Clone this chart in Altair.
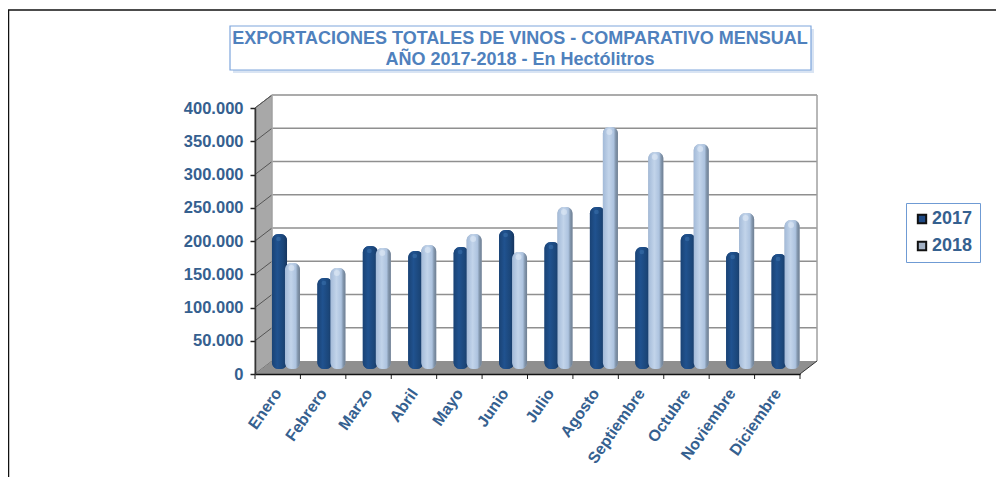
import altair as alt
import pandas as pd

months = ["Enero", "Febrero", "Marzo", "Abril", "Mayo", "Junio", "Julio", "Agosto",
          "Septiembre", "Octubre", "Noviembre", "Diciembre"]
v2017 = [203000, 136800, 185000, 177400, 183500, 209000, 191000, 243600, 183500, 203000, 175900, 172900]
v2018 = [159400, 151900, 182000, 186500, 203000, 175900, 243600, 363900, 326300, 338300, 234600, 224100]
y_ticks = [0, 50000, 100000, 150000, 200000, 250000, 300000, 350000, 400000]
title_lines = ["EXPORTACIONES TOTALES DE VINOS - COMPARATIVO MENSUAL", "AÑO 2017-2018 - En Hectólitros"]

FONT = "Liberation Sans"
TXT = "#35608f"
DX, DY = 17 / 45.4, 13 * 400000 / 266   # depth of the 3D box in data units
PW, PH = 545, 266
L, T = 247, 100
WIDTH, HEIGHT = 988, 469
OFF_BAR = -5

x_s = alt.Scale(domain=[0, 12], nice=False, zero=False)
y_s = alt.Scale(domain=[0, 400000], nice=False, zero=False)
label_expr = "[" + ",".join(f"'{m}'" for m in months) + "][floor(datum.value)]"
x_axis = alt.Axis(
    title=None, values=[i + 0.5 for i in range(12)], labelExpr=label_expr, ticks=False, grid=False, zindex=1,
    labelAngle=-55, labelAlign="right", labelBaseline="middle", labelPadding=16, labelOverlap=False,
    labelFont=FONT, labelFontSize=16, labelFontWeight="bold", labelColor=TXT,
    domainColor="#111111", domainWidth=1.5)
y_axis = alt.Axis(
    title=None, values=y_ticks, labelExpr="replace(format(datum.value, ','), ',', '.')", grid=False, zindex=1,
    tickSize=5, tickColor="#222222", tickWidth=1.5, labelPadding=7,
    labelFont=FONT, labelFontSize=16.5, labelFontWeight="bold", labelColor=TXT,
    domainColor="#333333", domainWidth=1.5)
X = lambda f: alt.X(f, type="quantitative", scale=x_s, axis=x_axis)
Y = lambda f: alt.Y(f, type="quantitative", scale=y_s, axis=y_axis)

rows = []
for i, m in enumerate(months):
    rows.append(dict(mes=m, serie="2017", valor=v2017[i], x0=i + 0.374, x1=i + 0.705, xc=i + 0.54))
    rows.append(dict(mes=m, serie="2018", valor=v2018[i], x0=i + 0.66, x1=i + 0.99, xc=i + 0.825))
df = pd.DataFrame(rows)
df["base"] = 0


def rect(x0, x1, y0, y1, color, opacity=1.0, stroke=None):
    kw = dict(color=color, opacity=opacity)
    if stroke:
        kw.update(stroke=stroke, strokeWidth=1.2)
    return alt.Chart(alt.Data(values=[{}])).mark_rect(**kw).encode(
        x=alt.value(x0), x2=alt.value(x1), y=alt.value(y0), y2=alt.value(y1))


def line(x0, x1, y0, y1, color="#111111", w=1.5):
    return alt.Chart(alt.Data(values=[{}])).mark_rule(color=color, strokeWidth=w).encode(
        x=alt.value(x0), x2=alt.value(x1), y=alt.value(y0), y2=alt.value(y1))


# 3D box
wall = alt.Chart(pd.DataFrame({"x": [0, DX], "y": [0, DY], "y2": [400000, 400000 + DY]})).mark_area(
    color="#a8a8a8", stroke="#666666", strokeWidth=1).encode(x=X("x"), y=Y("y"), y2="y2")
floor = alt.Chart(pd.DataFrame({"x": [0, DX, 12, 12 + DX], "y": [0, 0, 0, DY], "y2": [0, DY, DY, DY]})).mark_area(
    color="#8f8f8f").encode(x=X("x"), y=Y("y"), y2="y2")

gdf = pd.DataFrame({"v": y_ticks})
gdf["xa"], gdf["xb"], gdf["yb"] = DX, 12 + DX, gdf["v"] + DY
gdf["x0"] = 0
grid = alt.Chart(gdf[gdf.v > 0]).mark_rule(color="#8f8f8f", strokeWidth=1.4).encode(
    x=X("xa"), x2="xb", y=Y("yb"), y2="yb")
diag = alt.Chart(gdf[gdf.v > 0]).mark_rule(color="#555555", strokeWidth=1).encode(
    x=X("x0"), x2="xa", y=Y("v"), y2="yb")
back_left = alt.Chart(pd.DataFrame({"x": [DX], "a": [DY], "b": [400000 + DY]})).mark_rule(
    color="#bdbdbd", strokeWidth=1).encode(x=X("x"), y=Y("a"), y2="b")
back_right = alt.Chart(pd.DataFrame({"x": [12 + DX], "a": [DY], "b": [400000 + DY]})).mark_rule(
    color="#a0a0a0", strokeWidth=1.5).encode(x=X("x"), y=Y("a"), y2="b")
floor_edge = alt.Chart(pd.DataFrame({"a": [12], "b": [12 + DX], "y": [0], "y2": [DY]})).mark_rule(
    color="#333333", strokeWidth=1).encode(x=X("a"), x2="b", y=Y("y"), y2="y2")
ticks = alt.Chart(pd.DataFrame({"x": list(range(13))})).mark_rule(color="#222222", strokeWidth=1).encode(
    x=X("x"), y=alt.value(PH), y2=alt.value(PH + 5))

# bars: flat base carries the legend, gradient layers give the cylinder look
bar_kw = dict(cornerRadius=6.5, yOffset=OFF_BAR, y2Offset=OFF_BAR)
base_bars = alt.Chart(df).mark_bar(**bar_kw).encode(
    x=X("x0"), x2="x1", y=Y("valor"), y2="base",
    color=alt.Color("serie:N", scale=alt.Scale(domain=["2017", "2018"], range=["#1f4a85", "#a3b1c4"]),
                    legend=alt.Legend(title=None, orient="none", legendX=651, legendY=95, padding=7,
                                      fillColor="white", strokeColor="#6f9bd4", symbolType="square",
                                      symbolSize=70, symbolStrokeColor="#111111", symbolStrokeWidth=2,
                                      symbolOpacity=1, rowPadding=9,
                                      labelFont=FONT, labelFontSize=18, labelFontWeight="bold",
                                      labelColor=TXT, labelOffset=1)))


def grad(stops):
    return alt.Gradient(gradient="linear", x1=0, x2=1, y1=0, y2=0,
                        stops=[alt.GradientStop(offset=o, color=c) for o, c in stops])


grad17 = grad([(0, "#1a4375"), (0.35, "#20528f"), (0.75, "#1b4679"), (1, "#17365f")])
grad18 = grad([(0, "#a3bad8"), (0.4, "#c2d4ea"), (0.72, "#adc3df"), (0.85, "#8397ae"), (1, "#6f7f92")])


def bars(serie, g, cap_color, size):
    d = df[df.serie == serie]
    b = alt.Chart(d).mark_bar(color=g, **bar_kw).encode(x=X("x0"), x2="x1", y=Y("valor"), y2="base")
    c = alt.Chart(d).mark_point(filled=True, color=cap_color, size=size, opacity=0.55, yOffset=OFF_BAR + 5,
                                xOffset=-1).encode(x=X("xc"), y=Y("valor"))
    return b + c


bars17 = bars("2017", grad17, "#3d72ad", 22)
bars18 = bars("2018", grad18, "#e3edf7", 36)

frame = line(-L, WIDTH - L, -T + 2, -T + 2, "#111111", 1.5) + line(-L + 0.5, -L + 0.5, -T + 2, HEIGHT - T, "#111111", 1.5)
title_box = rect(-25 + 3, 556 + 3, -82 + 3, -38 + 3, "#c9d8ee", 0.7) + rect(-25, 556, -82, -38, "white", 1, "#7ea6dc")
legend_shadow = rect(655, 725, 99, 154, "#bcd0ec", 0.8)
title_kw = dict(font=FONT, fontSize=18, fontWeight="bold", color="#4f81bd", align="center", baseline="alphabetic")
title1 = alt.Chart(pd.DataFrame({"t": title_lines[:1]})).mark_text(**title_kw).encode(
    x=alt.value(265), y=alt.value(-64), text="t:N")
title2 = alt.Chart(pd.DataFrame({"t": title_lines[1:]})).mark_text(**title_kw).encode(
    x=alt.value(265), y=alt.value(-43), text="t:N")

chart = alt.layer(
    frame, title_box, title1, title2, legend_shadow,
    wall, floor, grid, diag, back_left, back_right, floor_edge, ticks,
    base_bars, bars17, bars18,
).resolve_scale(x="shared", y="shared").properties(
    width=PW, height=PH,
    padding={"left": L, "top": T, "right": WIDTH - L - PW, "bottom": HEIGHT - T - PH},
    autosize=alt.AutoSizeParams(type="none"),
).configure_view(stroke=None)

chart.save("out.html", embed_options={"renderer": "svg", "actions": False})
